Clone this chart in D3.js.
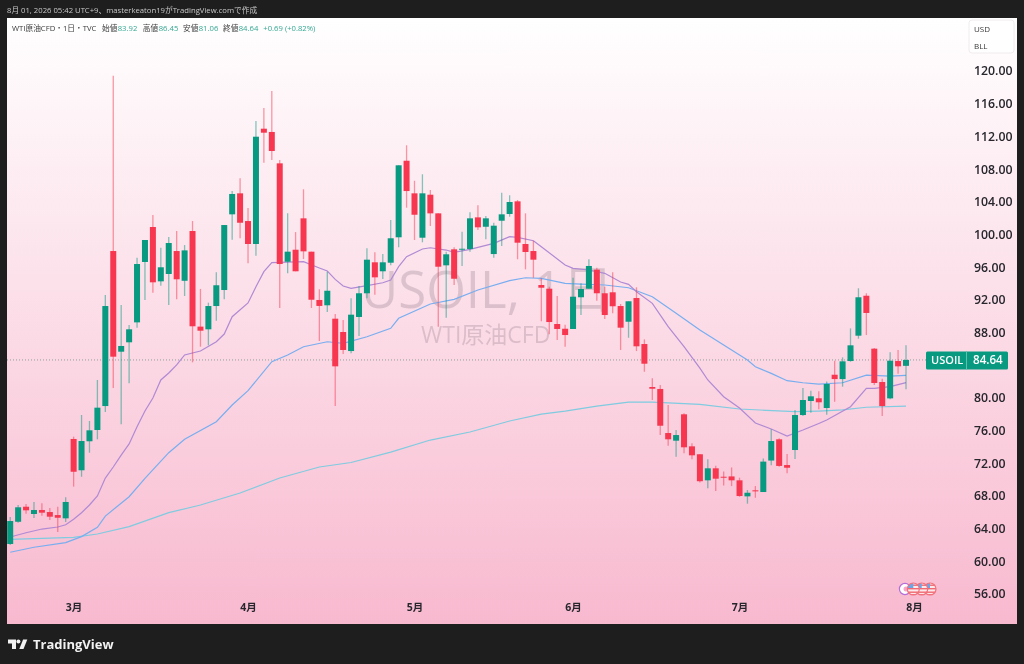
<!DOCTYPE html>
<html lang="ja">
<head>
<meta charset="utf-8">
<title>USOIL</title>
<script src="https://cdn.jsdelivr.net/npm/d3@7/dist/d3.min.js"></script>
<style>
html,body{margin:0;padding:0;background:#1e1e1e;overflow:hidden}
svg{display:block;filter:blur(0.3px)}
text{font-family:"Open Sans","Noto Sans CJK JP",sans-serif}
</style>
</head>
<body>
<svg id="chart" width="1024" height="664"></svg>
<script>
const opens=[62.12,64.84,66.68,65.79,66.28,66.03,65.66,65.26,74.97,71.14,
74.69,76.07,79.0,97.97,85.65,86.80,89.24,96.63,100.91,94.26,
95.16,97.97,94.33,100.42,88.72,88.39,91.24,93.20,102.46,105.03,
101.64,98.83,112.94,112.54,108.70,96.66,98.13,101.97,97.89,91.98,
91.33,89.69,88.06,85.73,89.90,92.80,96.59,95.49,96.54,99.65,
109.02,105.03,99.60,104.86,102.58,96.22,98.18,98.18,98.22,102.09,
100.94,97.60,101.68,102.50,104.05,98.83,97.97,93.81,93.36,89.04,
88.46,88.43,92.31,93.36,95.69,92.80,92.92,91.24,89.32,92.22,
86.59,81.33,81.09,75.70,74.76,77.99,74.07,73.10,69.91,71.38,
70.35,70.39,69.91,67.95,68.69,68.48,72.33,74.93,71.78,73.62,
77.90,79.62,79.95,78.76,82.83,82.30,84.51,87.61,92.50,86.02,
81.94,79.94,84.51,83.92];
const closes=[64.93,66.61,66.24,66.28,65.95,65.46,65.33,67.26,70.96,74.72,
76.03,78.80,91.24,85.04,86.35,88.39,96.38,99.32,94.14,95.98,
98.95,94.51,98.05,88.76,88.22,91.24,93.78,101.15,104.95,101.43,
98.83,111.96,112.45,110.21,96.38,97.89,95.49,97.93,92.01,91.25,
93.11,83.86,85.86,90.18,92.80,96.91,94.75,96.59,99.53,108.46,
105.31,102.41,105.03,102.58,96.05,97.57,94.58,98.25,101.97,100.87,
101.97,101.07,102.46,103.97,98.99,97.85,96.91,93.48,89.28,88.43,
87.69,92.38,93.32,96.14,92.80,90.14,91.21,88.59,91.82,86.31,
84.18,81.12,76.59,74.93,75.45,73.95,72.97,69.80,71.38,70.11,
70.23,69.91,67.99,68.39,68.56,72.20,74.72,71.67,71.45,77.90,
79.74,80.19,79.46,81.70,82.30,84.47,86.43,92.31,90.39,81.82,
79.0,84.55,83.86,84.64];
const highs=[65.42,66.89,67.01,67.26,67.10,66.52,66.68,67.83,75.25,77.90,
77.17,82.19,92.59,119.42,91.37,88.92,97.15,99.32,102.38,98.37,
99.68,100.42,98.70,101.64,93.33,91.65,95.37,101.15,105.31,106.87,
103.23,113.88,115.47,117.55,109.11,102.58,100.29,105.52,97.89,93.29,
95.44,90.26,89.53,92.19,93.69,98.30,97.81,97.60,101.77,108.46,
110.91,106.57,107.36,105.44,102.58,97.89,98.43,100.33,102.71,103.56,
102.25,101.44,105.11,104.79,104.21,102.58,99.23,94.63,93.60,92.47,
88.95,94.70,94.02,96.96,95.93,93.60,95.37,91.49,91.82,93.53,
87.16,82.39,81.58,79.13,76.07,78.11,74.44,73.10,72.48,71.70,
71.00,71.49,70.23,68.72,69.21,72.57,76.15,75.06,73.13,78.52,
81.21,80.88,80.81,81.99,84.55,84.96,88.50,93.41,92.80,86.10,
82.35,85.57,85.86,86.45];
const lows=[62.00,64.72,65.82,65.30,65.58,65.05,63.58,64.81,69.14,70.35,
73.29,74.93,78.27,81.21,76.77,81.78,88.58,91.98,92.87,93.72,
91.37,92.06,92.47,84.35,86.27,86.43,89.44,92.06,99.35,99.52,
96.47,97.40,108.78,109.11,91.00,95.24,95.49,96.99,91.00,86.96,
90.51,79.00,85.37,85.45,87.57,92.19,92.62,94.55,96.22,98.43,
103.27,99.32,99.04,101.03,88.71,89.81,93.81,96.14,97.89,100.54,
99.40,97.15,98.58,102.17,96.96,95.73,94.70,89.37,87.78,87.08,
86.26,88.43,90.14,93.36,91.89,89.65,90.35,85.86,87.36,85.73,
83.20,79.74,75.45,74.15,72.80,73.22,72.48,69.63,68.93,68.60,
69.29,69.21,67.90,67.05,67.78,68.48,71.75,71.58,70.77,72.52,
77.78,78.19,78.60,77.94,79.53,81.37,84.42,87.24,87.69,81.58,
77.78,79.82,82.96,81.06];

const purpleIdx=[0,2,4,6,7,8,9,10,11,12,13,14,15,16,17,18,19,20,21,22,24,26,27,28,30,31,32,33,37,39,40,41,42,43,45,47,48,49,50,52,53,55,56,58,61,63,64,66,67,70,71,73,75,77,78,79,81,83,85,87,88,90,92,94,96,98,100,102,103,106,108,109,111,113];
const purpleVals=[62.97,63.50,63.95,64.20,64.48,65.14,65.95,66.89,67.99,70.19,71.54,73.00,74.36,76.47,78.39,79.98,82.19,83.05,84.03,85.25,85.74,86.88,87.81,89.93,91.61,93.60,95.44,96.55,96.67,95.89,95.52,94.50,93.69,93.41,93.73,94.09,94.42,96.05,97.27,98.22,98.37,98.09,97.81,98.18,98.91,99.72,99.65,99.23,98.50,96.26,95.85,95.65,95.24,94.18,93.89,92.99,91.57,88.71,86.26,83.65,82.19,80.14,78.76,76.92,76.19,75.33,76.07,76.87,77.29,78.92,81.17,81.17,81.37,81.86];
const blueIdx=[0,3,7,9,11,12,15,17,20,22,26,28,30,33,35,37,40,42,45,48,49,53,56,59,63,65,67,70,72,75,78,81,84,87,93,94,96,98,100,102,105,108,111,113];
const blueVals=[61.11,61.72,62.28,63.02,64.16,65.54,67.90,70.16,73.29,74.93,77.09,79.13,80.88,84.43,85.25,86.26,86.87,86.67,87.48,88.51,89.74,91.49,92.06,93.20,94.34,94.70,94.63,94.02,93.93,93.81,93.48,92.37,90.35,88.31,84.63,83.81,83.00,82.10,81.85,81.69,81.85,82.79,82.67,82.76];
const cyanIdx=[0,8,11,15,20,24,29,34,39,43,48,53,58,63,67,70,74,78,81,87,92,99,102,105,108,113];
const cyanVals=[62.69,62.94,63.34,64.24,65.95,66.89,68.36,70.19,71.54,72.09,73.37,74.84,75.82,77.17,78.02,78.39,79.00,79.49,79.49,79.21,78.64,78.31,78.39,78.52,78.85,79.00];

const priceTicks=[120,116,112,108,104,100,96,92,88,80,76,72,68,64,60,56];
const monthIdx=[8,30,51,71,92,114];
const monthLabels=["3月","4月","5月","6月","7月","8月"];
const lastPrice=84.64;

const svg=d3.select("#chart");
const defs=svg.append("defs");
const grad=defs.append("linearGradient").attr("id","bg").attr("x1",0).attr("y1",0).attr("x2",0).attr("y2",1);
grad.append("stop").attr("offset","0").attr("stop-color","#ffffff");
grad.append("stop").attr("offset","1").attr("stop-color","#f8b9cf");
defs.append("clipPath").attr("id","plot").append("rect").attr("x",7).attr("y",18).attr("width",961).attr("height",606);

const x=d3.scaleLinear().domain([0,113]).range([10.2,906]);
const y=d3.scaleLinear().domain([120,56]).range([71,594]);

svg.append("rect").attr("width",1024).attr("height",664).attr("fill","#1e1e1e");
svg.append("rect").attr("x",7).attr("y",18).attr("width",1010).attr("height",606).attr("fill","url(#bg)");

// header
svg.append("text").attr("x",7).attr("y",13).attr("font-size",7.7).attr("fill","#c8c8c8")
  .text("8月 01, 2026 05:42 UTC+9、masterkeaton19がTradingView.comで作成");
const legend=svg.append("text").attr("y",30.5).attr("font-size",7.7);
[["WTI原油CFD・1日・TVC","#3a3a3a",12],["始値","#3a3a3a",102],["83.92","#35a892",117.7],["高値","#3a3a3a",142.7],["86.45","#35a892",158.7],["安値","#3a3a3a",183],["81.06","#35a892",198.7],["終値","#3a3a3a",223],["84.64","#35a892",238.7],["+0.69 (+0.82%)","#35a892",263.3]]
 .forEach(([t,c,px])=>legend.append("tspan").attr("x",px).attr("fill",c).text(t));

// watermark
svg.append("text").attr("x",361).attr("y",308).attr("font-size",51).attr("fill","#6b5563").attr("fill-opacity",0.22).text("USOIL, 1日");
svg.append("text").attr("x",421).attr("y",343).attr("font-size",23).attr("fill","#6b5563").attr("fill-opacity",0.22).text("WTI原油CFD");

const plot=svg.append("g").attr("clip-path","url(#plot)");

// last-price dotted line
plot.append("line").attr("x1",7).attr("x2",926).attr("y1",y(lastPrice)).attr("y2",y(lastPrice))
  .attr("stroke","#8f9f9c").attr("stroke-width",1).attr("stroke-dasharray","1 2");

// moving averages
const line=d3.line().x(d=>x(d[0])).y(d=>y(d[1]));
[[cyanIdx,cyanVals,"#7fcbe0"],[blueIdx,blueVals,"#78aef0"],[purpleIdx,purpleVals,"#b08ad4"]].forEach(([ix,vs,c])=>{
  plot.append("path").datum(ix.map((k,i)=>[k,vs[i]])).attr("d",line).attr("fill","none").attr("stroke",c).attr("stroke-width",1.2);
});

// candles
const GREEN="#089981",RED="#f7374f";
const idx=d3.range(opens.length);
const col=i=>closes[i]>=opens[i]?GREEN:RED;
plot.selectAll("line.w").data(idx).join("line").attr("class","w")
  .attr("x1",i=>x(i)).attr("x2",i=>x(i)).attr("y1",i=>y(highs[i])).attr("y2",i=>y(lows[i]))
  .attr("stroke",col).attr("stroke-opacity",0.5).attr("stroke-width",1.3);
plot.selectAll("rect.b").data(idx).join("rect").attr("class","b")
  .attr("x",i=>x(i)-3).attr("width",6)
  .attr("y",i=>y(Math.max(opens[i],closes[i])))
  .attr("height",i=>Math.max(1,Math.abs(y(opens[i])-y(closes[i]))))
  .attr("fill",col);

// price axis
const yAxis=d3.axisRight(y).tickValues(priceTicks).tickFormat(d3.format(".2f")).tickSize(0).tickPadding(0);
const gy=svg.append("g").attr("transform","translate(974,0)").call(yAxis);
gy.select(".domain").remove();
gy.selectAll("text").attr("font-size",12.3).attr("font-weight",600).attr("fill","#26262c").style("font-family",'"Open Sans",sans-serif');

// time axis
const xAxis=d3.axisBottom(x).tickValues(monthIdx).tickFormat((d,i)=>monthLabels[i]).tickSize(0).tickPadding(0);
const gx=svg.append("g").attr("transform","translate(0,604)").call(xAxis);
gx.select(".domain").remove();
gx.selectAll("text").attr("font-size",10.5).attr("font-weight",700).attr("fill","#26262c");

// currency box
svg.append("rect").attr("x",969).attr("y",20).attr("width",45).attr("height",33).attr("rx",3).attr("fill","#fff").attr("fill-opacity",0.75).attr("stroke","#ebe4e7").attr("stroke-opacity",0.7);
svg.append("text").attr("x",974).attr("y",32).attr("font-size",8).attr("fill","#3a3a3a").text("USD");
svg.append("text").attr("x",974).attr("y",49).attr("font-size",8).attr("fill","#3a3a3a").text("BLL");

// price tag
const ty=y(lastPrice);
svg.append("rect").attr("x",926).attr("y",ty-8.5).attr("width",82).attr("height",18).attr("rx",1.5).attr("fill",GREEN);
svg.append("line").attr("x1",966.5).attr("x2",966.5).attr("y1",ty-8.5).attr("y2",ty+9.5).attr("stroke","#5fc0ad").attr("stroke-width",1);
svg.append("text").attr("x",931).attr("y",ty+4.5).attr("font-size",11).attr("font-weight",600).attr("fill","#fff").text("USOIL");
svg.append("text").attr("x",973).attr("y",ty+4.5).attr("font-size",11.6).attr("font-weight",600).attr("fill","#fff").text(d3.format(".2f")(lastPrice));

// event badges
const badges=svg.append("g");
badges.append("circle").attr("cx",905).attr("cy",589).attr("r",5.6).attr("fill","#fff").attr("stroke","#b56fd6").attr("stroke-width",1.2);
badges.append("circle").attr("cx",906).attr("cy",589).attr("r",2.5).attr("fill","#f5a6c8");
[930,921.7,913.3].forEach((cx,k)=>{
  const id="fl"+k;
  defs.append("clipPath").attr("id",id).append("circle").attr("cx",cx).attr("cy",589).attr("r",6);
  const g=badges.append("g").attr("clip-path",`url(#${id})`);
  g.append("rect").attr("x",cx-7).attr("y",582).attr("width",14).attr("height",14).attr("fill","#fbe9ec");
  [584.5,588,591.5,594].forEach(s=>g.append("rect").attr("x",cx-7).attr("y",s).attr("width",14).attr("height",1.4).attr("fill","#ef6a72"));
  g.append("rect").attr("x",cx-7).attr("y",582).attr("width",7).attr("height",6).attr("fill","#6aa6e8");
  badges.append("circle").attr("cx",cx).attr("cy",589).attr("r",6).attr("fill","none").attr("stroke","#f3707c").attr("stroke-width",1.2);
});

// footer logo
const logo=svg.append("g").attr("fill","#f2f2f2");
logo.append("path").attr("d","M8 639.5h8v9.5h-4v-5.5H8z");
logo.append("circle").attr("cx",18.4).attr("cy",641.5).attr("r",2);
logo.append("path").attr("d","M19.3 649l3.8-9.5h4.2l-3.8 9.5z");
svg.append("text").attr("x",33).attr("y",649).attr("font-size",13).attr("font-weight",700).attr("fill","#f2f2f2").text("TradingView");
</script>
</body>
</html>
